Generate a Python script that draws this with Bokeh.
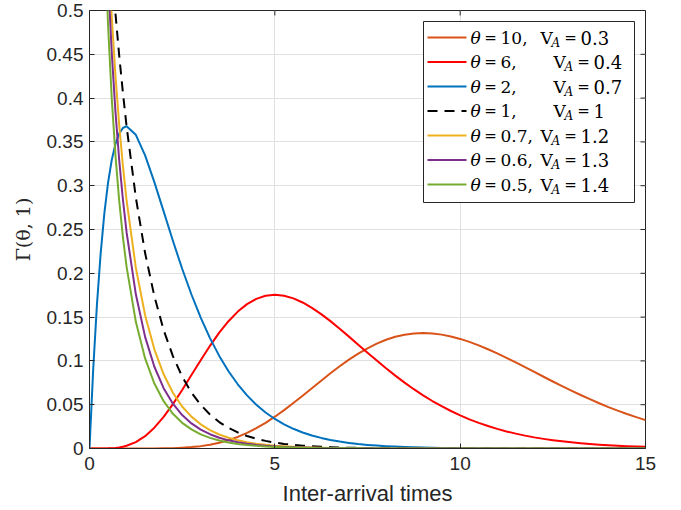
from bokeh.plotting import figure
from bokeh.models import Range1d, FixedTicker, BoxAnnotation, Label
from bokeh.embed import file_html
from bokeh.resources import INLINE

# ---------------- data ----------------
x_vals = [0, 0.1, 0.2, 0.3, 0.4, 0.5, 0.6, 0.7, 0.8, 0.9, 1.0,
          1.25, 1.5, 1.75, 2.0, 2.25, 2.5, 2.75, 3.0, 3.25, 3.5, 3.75, 4.0, 4.25, 4.5, 4.75, 5.0,
          5.25, 5.5, 5.75, 6.0, 6.25, 6.5, 6.75, 7.0, 7.25, 7.5, 7.75, 8.0, 8.25, 8.5, 8.75, 9.0,
          9.25, 9.5, 9.75, 10.0, 10.25, 10.5, 10.75, 11.0, 11.25, 11.5, 11.75, 12.0,
          12.25, 12.5, 12.75, 13.0, 13.25, 13.5, 13.75, 14.0, 14.25, 14.5, 14.75, 15.0]

y_theta10 = [0, 0, 0, 0, 0, 0, 0, 0, 0, 0, 0,
             0.0, 0.0, 0.0001, 0.0002, 0.0004, 0.0009, 0.0016, 0.0027, 0.0043, 0.0066, 0.0095, 0.0132,
             0.0178, 0.0232, 0.0293, 0.0363,
             0.0438, 0.0519, 0.0603, 0.0688, 0.0774, 0.0858, 0.0939, 0.1014, 0.1083, 0.1144, 0.1197, 0.1241,
             0.1275, 0.1299, 0.1313, 0.1318,
             0.1313, 0.1300, 0.1279, 0.1251, 0.1217, 0.1177, 0.1133, 0.1085, 0.1035, 0.0982, 0.0928, 0.0874,
             0.0819, 0.0765, 0.0712, 0.0661, 0.0611, 0.0563, 0.0517, 0.0473, 0.0432, 0.0394, 0.0358, 0.0324]

y_theta6 = [0, 0, 0, 0, 0.0001, 0.0002, 0.0004, 0.0007, 0.0012, 0.0020, 0.0031,
            0.0073, 0.0141, 0.0238, 0.0361, 0.0507, 0.0668, 0.0838, 0.1008, 0.1172, 0.1322, 0.1453, 0.1563,
            0.1648, 0.1708, 0.1743, 0.1755,
            0.1744, 0.1714, 0.1667, 0.1606, 0.1534, 0.1454, 0.1367, 0.1277, 0.1185, 0.1094, 0.1004, 0.0916,
            0.0832, 0.0752, 0.0677, 0.0607,
            0.0542, 0.0483, 0.0428, 0.0378, 0.0333, 0.0293, 0.0257, 0.0224, 0.0195, 0.0170, 0.0147, 0.0127,
            0.0110, 0.0095, 0.0082, 0.0070, 0.0060, 0.0051, 0.0044, 0.0037, 0.0032, 0.0027, 0.0023, 0.0019]

y_theta2 = [0, 0.0905, 0.1637, 0.2222, 0.2681, 0.3033, 0.3293, 0.3476, 0.3595, 0.3659, 0.3679,
            0.3581, 0.3347, 0.3041, 0.2707, 0.2371, 0.2052, 0.1758, 0.1494, 0.1260, 0.1057, 0.0882, 0.0733,
            0.0606, 0.0500, 0.0411, 0.0337,
            0.0275, 0.0225, 0.0183, 0.0149, 0.0121, 0.0098, 0.0079, 0.0064, 0.0051, 0.0041, 0.0033, 0.0027,
            0.0022, 0.0017, 0.0014, 0.0011,
            0.0009, 0.0007, 0.0006, 0.0005, 0.0004, 0.0003, 0.0002, 0.0002, 0.0001, 0.0001, 0.0001, 0.0001,
            0.0001, 0.0, 0.0, 0.0, 0.0, 0.0, 0.0, 0.0, 0.0, 0.0, 0.0, 0.0]

y_theta1 = [1.0, 0.9048, 0.8187, 0.7408, 0.6703, 0.6065, 0.5488, 0.4966, 0.4493, 0.4066, 0.3679,
            0.2865, 0.2231, 0.1738, 0.1353, 0.1054, 0.0821, 0.0639, 0.0498, 0.0388, 0.0302, 0.0235, 0.0183,
            0.0143, 0.0111, 0.0087, 0.0067,
            0.0052, 0.0041, 0.0032, 0.0025, 0.0019, 0.0015, 0.0012, 0.0009, 0.0007, 0.0006, 0.0004, 0.0003,
            0.0003, 0.0002, 0.0002, 0.0001,
            0.0001, 0.0001, 0.0001, 0.0, 0.0, 0.0, 0.0, 0.0, 0.0, 0.0, 0.0, 0.0,
            0.0, 0.0, 0.0, 0.0, 0.0, 0.0, 0.0, 0.0, 0.0, 0.0, 0.0, 0.0]

# the theta < 1 densities are unbounded at x = 0, so they start at x = 0.1
y_theta07 = [1.3908, 1.0222, 0.8190, 0.6798, 0.5753, 0.4928, 0.4258, 0.3701, 0.3233, 0.2834,
             0.2064, 0.1522, 0.1132, 0.0847, 0.0637, 0.0480, 0.0364, 0.0276, 0.0210, 0.0160, 0.0122, 0.0093,
             0.0071, 0.0055, 0.0042, 0.0032,
             0.0025, 0.0019, 0.0015, 0.0011, 0.0009, 0.0007, 0.0005, 0.0004, 0.0003, 0.0002, 0.0002, 0.0001,
             0.0001, 0.0001, 0.0001, 0.0,
             0.0, 0.0, 0.0, 0.0, 0.0, 0.0, 0.0, 0.0, 0.0, 0.0, 0.0, 0.0,
             0.0, 0.0, 0.0, 0.0, 0.0, 0.0, 0.0, 0.0, 0.0, 0.0, 0.0, 0.0]

y_theta06 = [1.5262, 1.0466, 0.8052, 0.6494, 0.5374, 0.4521, 0.3846, 0.3299, 0.2848, 0.2470,
             0.1760, 0.1274, 0.0933, 0.0689, 0.0512, 0.0382, 0.0286, 0.0215, 0.0163, 0.0123, 0.0093, 0.0071,
             0.0054, 0.0041, 0.0031, 0.0024,
             0.0018, 0.0014, 0.0011, 0.0008, 0.0006, 0.0005, 0.0004, 0.0003, 0.0002, 0.0002, 0.0001, 0.0001,
             0.0001, 0.0001, 0.0, 0.0,
             0.0, 0.0, 0.0, 0.0, 0.0, 0.0, 0.0, 0.0, 0.0, 0.0, 0.0, 0.0,
             0.0, 0.0, 0.0, 0.0, 0.0, 0.0, 0.0, 0.0, 0.0, 0.0, 0.0, 0.0]

y_theta05 = [1.6143, 1.0329, 0.7631, 0.5980, 0.4839, 0.3997, 0.3349, 0.2834, 0.2418, 0.2076,
             0.1446, 0.1028, 0.0741, 0.0540, 0.0396, 0.0293, 0.0218, 0.0162, 0.0121, 0.0091, 0.0069, 0.0052,
             0.0039, 0.0030, 0.0022, 0.0017,
             0.0013, 0.0010, 0.0008, 0.0006, 0.0004, 0.0003, 0.0003, 0.0002, 0.0002, 0.0001, 0.0001, 0.0001,
             0.0, 0.0, 0.0, 0.0,
             0.0, 0.0, 0.0, 0.0, 0.0, 0.0, 0.0, 0.0, 0.0, 0.0, 0.0, 0.0,
             0.0, 0.0, 0.0, 0.0, 0.0, 0.0, 0.0, 0.0, 0.0, 0.0, 0.0, 0.0]

theta_labels = ["10", "6", "2", "1", "0.7", "0.6", "0.5"]
va_labels = ["0.3", "0.4", "0.7", "1", "1.2", "1.3", "1.4"]

x_ticks = [0, 5, 10, 15]
x_tick_labels = ["0", "5", "10", "15"]
y_ticks = [0, 0.05, 0.1, 0.15, 0.2, 0.25, 0.3, 0.35, 0.4, 0.45, 0.5]
y_tick_labels = ["0", "0.05", "0.1", "0.15", "0.2", "0.25", "0.3", "0.35", "0.4", "0.45", "0.5"]

for ys in (y_theta10, y_theta6, y_theta2, y_theta1):
    assert len(ys) == len(x_vals)
for ys in (y_theta07, y_theta06, y_theta05):
    assert len(ys) == len(x_vals) - 1

# ---------------- styling ----------------
colors = ["#D95319", "#FF0000", "#0072BD", "#000000", "#EDB120", "#7E2F8E", "#77AC30"]
dashes = ["solid", "solid", "solid", "10 7", "solid", "solid", "solid"]
AX = "#262626"
GRID = "#e0e0e0"

W, H = 681, 510
BL, BR, BT, BB = 89, 36, 10, 62
FW, FH = W - BL - BR, H - BT - BB
XMAX, YMAX = 15, 0.5
TICK = 5

p = figure(width=W, height=H, x_range=Range1d(0, XMAX), y_range=Range1d(0, YMAX),
           output_backend="svg", toolbar_location=None,
           min_border_left=BL, min_border_right=BR, min_border_top=BT, min_border_bottom=BB)
p.background_fill_color = "white"
p.border_fill_color = "white"
p.outline_line_color = AX
p.outline_line_width = 1

xt = FixedTicker(ticks=x_ticks)
yt = FixedTicker(ticks=y_ticks)
p.xaxis.ticker = xt
p.yaxis.ticker = yt
p.xaxis.major_label_overrides = dict(zip(x_ticks, x_tick_labels))
p.yaxis.major_label_overrides = dict(zip(y_ticks, y_tick_labels))
p.xgrid.ticker = xt
p.ygrid.ticker = yt
p.grid.grid_line_color = GRID
p.grid.grid_line_width = 1

for ax in (p.xaxis[0], p.yaxis[0]):
    ax.major_tick_in = TICK
    ax.major_tick_out = 0
    ax.minor_tick_line_color = None
    ax.axis_line_color = AX
    ax.major_tick_line_color = AX
    ax.major_label_text_color = AX
    ax.major_label_text_font = "Liberation Sans"
    ax.major_label_text_font_size = "19px"
    ax.axis_label_text_color = AX
    ax.axis_label_text_font_style = "normal"

p.xaxis.major_label_standoff = 8
p.xaxis.axis_label = "Inter-arrival times"
p.xaxis.axis_label_text_font = "Liberation Sans"
p.xaxis.axis_label_text_font_size = "22px"
p.xaxis.axis_label_standoff = 8

p.yaxis.major_label_standoff = 6
p.yaxis.axis_label = "Γ(θ, 1)"
p.yaxis.axis_label_text_font = "DejaVu Serif"
p.yaxis.axis_label_text_font_size = "19px"
p.yaxis.axis_label_standoff = 10


def dx(px):
    return px * XMAX / FW


def dy(py):
    return YMAX - py * YMAX / FH


# ---------------- curves ----------------
series = [(x_vals, y_theta10), (x_vals, y_theta6), (x_vals, y_theta2), (x_vals, y_theta1),
          (x_vals[1:], y_theta07), (x_vals[1:], y_theta06), (x_vals[1:], y_theta05)]
for (xs, ys), c, d in zip(series, colors, dashes):
    p.line(xs, ys, line_color=c, line_width=2, line_dash=d, line_join="round")

# inward ticks on the top and right edges of the box (taken from the tick arrays)
p.segment(x0=x_ticks, y0=[YMAX] * len(x_ticks), x1=x_ticks, y1=[dy(TICK)] * len(x_ticks),
          line_color=AX, line_width=1)
p.segment(x0=[XMAX] * len(y_ticks), y0=y_ticks, x1=[XMAX - dx(TICK)] * len(y_ticks), y1=y_ticks,
          line_color=AX, line_width=1)

# ---------------- legend (drawn by hand for the V_A subscript) ----------------
p.add_layout(BoxAnnotation(left=dx(334), right=dx(545), top=dy(11), bottom=dy(192),
                           fill_color="white", fill_alpha=1.0, line_color=AX, line_width=1,
                           line_alpha=1.0))

SERIF = "DejaVu Serif"
row0, rstep = 27, 24.5
for i, (th, va) in enumerate(zip(theta_labels, va_labels)):
    ry = row0 + i * rstep
    p.segment(x0=[dx(338)], y0=[dy(ry)], x1=[dx(377)], y1=[dy(ry)],
              line_color=colors[i], line_width=2, line_dash=dashes[i], level="overlay")
    vx = 464 if len(th) == 1 else 451
    pieces = [
        (381, ry, "θ", "17px", "italic", "left"),
        (401, ry, "=", "15px", "normal", "center"),
        (411, ry, th + ",", "17px", "normal", "left"),
        (vx, ry, "V", "17px", "normal", "left"),
        (vx + 11, ry + 5, "A", "12px", "italic", "left"),
        (vx + 30, ry, "=", "15px", "normal", "center"),
        (vx + 40, ry, va, "18px", "normal", "left"),
    ]
    for px_, py_, txt, fs, st, al in pieces:
        p.add_layout(Label(x=dx(px_), y=dy(py_), text=txt, text_font=SERIF, text_font_size=fs,
                           text_font_style=st, text_color="#000000", text_align=al,
                           text_baseline="middle"))

open("out.html", "w").write(file_html(p, INLINE))
